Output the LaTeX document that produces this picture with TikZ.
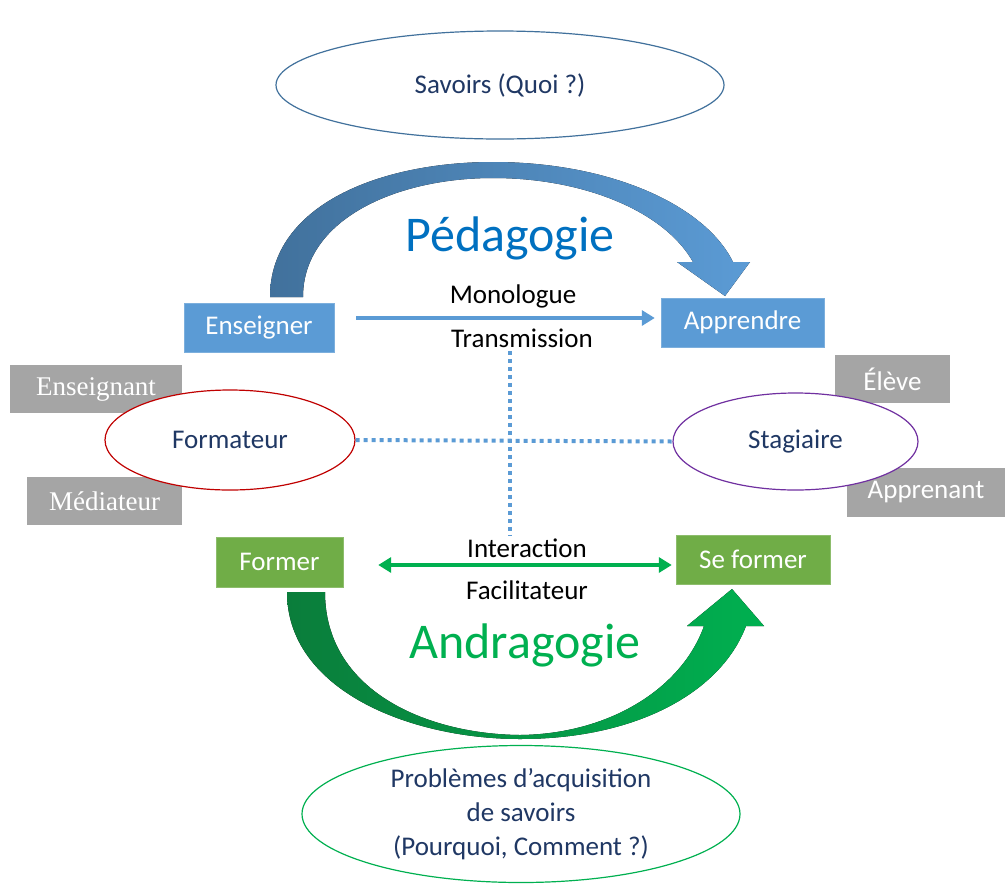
\documentclass[tikz,border=0pt]{standalone}
\usepackage{fontspec}
\setmainfont{Carlito}
\newfontfamily\timesfont{Liberation Serif}
\usetikzlibrary{shapes.geometric,arrows.meta}
\definecolor{boxblue}{HTML}{5B9BD5}
\definecolor{darkblue}{HTML}{41719C}
\definecolor{pedablue}{HTML}{0070C0}
\definecolor{boxgreen}{HTML}{70AD47}
\definecolor{andragreen}{HTML}{00B050}
\definecolor{darkgreen}{HTML}{0A7D3B}
\definecolor{boxgray}{HTML}{A5A5A5}
\definecolor{navy}{HTML}{203864}
\definecolor{redline}{HTML}{C00000}
\definecolor{purpleline}{HTML}{7030A0}
\begin{document}
\begin{tikzpicture}[x=1pt,y=-1pt,
    txt/.style={font=\fontsize{27}{34}\selectfont},
    bigtxt/.style={font=\fontsize{50}{56}\selectfont},
    bluebox/.style={txt, fill=boxblue, draw=boxblue!80!white, text=white, inner sep=0pt},
    greenbox/.style={txt, fill=boxgreen, draw=boxgreen!80!white, text=white, inner sep=0pt},
    graybox/.style={txt, fill=boxgray, text=white, inner sep=0pt},
    oval/.style={txt, ellipse, fill=white, text=navy, line width=1.2pt, inner sep=0pt},
    dots/.style={boxblue, line width=4pt, dash pattern=on 4pt off 4pt},
    tip/.style={-{Triangle[length=13pt,width=15pt]}}]
\useasboundingbox (0,0) rectangle (1006,884);

% curved arrows
\fill[left color=darkblue, right color=boxblue] (270,297) .. controls (270,205) and (380,162) .. (493,162) .. controls (610,162) and (705,205) .. (733,262) -- (750,262) -- (725,296) -- (677,262) -- (693,262) .. controls (665,212) and (585,178) .. (493,178) .. controls (395,178) and (303,220) .. (303,297) -- cycle;
\fill[left color=darkgreen, right color=andragreen] (287,592) .. controls (287,690) and (410,739) .. (520,739) .. controls (640,739) and (722,690) .. (746,626) -- (764,626) -- (732,589) -- (687,626) -- (704,626) .. controls (682,688) and (610,734) .. (520,735) .. controls (425,734) and (325,690) .. (325,592) -- cycle;

% gray labels
\node[graybox, minimum width=172, minimum height=48, font=\timesfont\fontsize{27}{33}\selectfont] (enst) at (96,389) {Enseignant};
\node[graybox, minimum width=155, minimum height=48, font=\timesfont\fontsize{27}{33}\selectfont] (medi) at (104.5,501) {Médiateur};
\node[graybox, minimum width=115, minimum height=48] (eleve) at (892.5,379) {Élève};
\node[graybox, minimum width=158, minimum height=49] (appt) at (926,492.5) {Apprenant};

% ovals
\node[oval, draw=darkblue, minimum width=448, minimum height=108] (savoirs) at (500,85) {Savoirs (Quoi ?)};
\node[oval, draw=redline, minimum width=250, minimum height=100] (form) at (230,440) {Formateur};
\node[oval, draw=purpleline, minimum width=245, minimum height=97] (stag) at (795.5,441.5) {Stagiaire};
\node[oval, draw=andragreen, minimum width=438, minimum height=137, align=center] (prob) at (521,814) {Problèmes d’acquisition\\de savoirs\\(Pourquoi, Comment ?)};

% boxes
\node[bluebox, minimum width=150, minimum height=49] (ens) at (259,327.5) {Enseigner};
\node[bluebox, minimum width=163, minimum height=49] (app) at (742.5,322.5) {Apprendre};
\node[greenbox, minimum width=127, minimum height=50] (former) at (279.5,562) {Former};
\node[greenbox, minimum width=154, minimum height=49] (seformer) at (753,559.5) {Se former};

% texts
\node[bigtxt, text=pedablue] (peda) at (510,238) {Pédagogie};
\node[bigtxt, text=andragreen] (andra) at (525,645) {Andragogie};
\node[txt] (mono) at (513,296) {Monologue};
\node[txt] (trans) at (522,338) {Transmission};
\node[txt] (inter) at (527,548) {Interaction};
\node[txt] (facil) at (527,590) {Facilitateur};

% connectors
\coordinate (mid) at (510,440);
\draw[dots] (trans.south -| mid) -- (inter.north -| mid);
\draw[dots] (form.east) -- (stag.west);
\draw[boxblue, line width=3.5pt, tip] ([xshift=22pt,yshift=9.5pt]ens.east) -- ([xshift=-6pt,yshift=4.5pt]app.west);
\draw[andragreen, line width=3.5pt, {Triangle[length=13pt,width=15pt]}-{Triangle[length=13pt,width=15pt]}] ([xshift=35pt,yshift=-3pt]former.east) -- ([xshift=-4pt,yshift=-5.5pt]seformer.west);
\end{tikzpicture}
\end{document}
